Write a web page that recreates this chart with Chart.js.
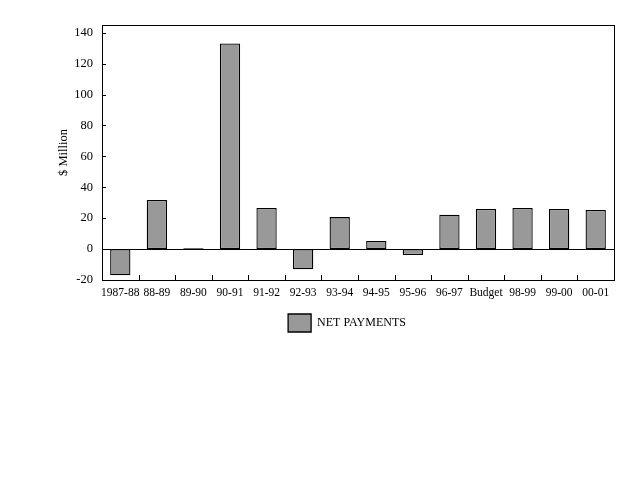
<!DOCTYPE html>
<html>
<head>
<meta charset="utf-8">
<script src="https://cdn.jsdelivr.net/npm/chart.js@4"></script>
<style>
  html, body { margin: 0; padding: 0; background: #fff; }
  #wrap { width: 640px; height: 480px; }
</style>
</head>
<body>
<div id="wrap"><canvas id="netChart" width="640" height="480"></canvas></div>
<script>
// Chart data
const years = ['1987-88', '88-89', '89-90', '90-91', '91-92', '92-93', '93-94',
               '94-95', '95-96', '96-97', 'Budget', '98-99', '99-00', '00-01'];
const netPayments = [-17, 31.8, 0.6, 133, 26.6, -13, 20.7, 5.2, -3.9, 22.2, 25.9, 26.6, 25.9, 25.3];
const yTickValues = [-20, -10, 0, 10, 20, 30, 40, 50, 60, 70, 80, 90, 100, 110, 120, 130, 140];

const serif = 'Liberation Serif, Times New Roman, serif';

// Draws the frame, the zero line and the inward tick marks
const framePlugin = {
  id: 'frame',
  beforeDatasetsDraw(chart) {
    const { ctx, chartArea: a, scales: { y } } = chart;
    const y0 = y.getPixelForValue(0);
    ctx.save();
    ctx.strokeStyle = '#000';
    ctx.lineWidth = 1;
    ctx.beginPath();
    ctx.moveTo(a.left, Math.round(y0) + 0.5);
    ctx.lineTo(a.right, Math.round(y0) + 0.5);
    ctx.stroke();
    ctx.restore();
  },
  afterDraw(chart) {
    const { ctx, chartArea: a, scales: { x, y } } = chart;
    ctx.save();
    ctx.strokeStyle = '#000';
    ctx.lineWidth = 1;
    ctx.strokeRect(Math.round(a.left) + 0.5, Math.round(a.top) + 0.5,
                   Math.round(a.right - a.left), Math.round(a.bottom - a.top));
    ctx.beginPath();
    y.ticks.forEach(t => {
      const py = Math.round(y.getPixelForValue(t.value)) + 0.5;
      ctx.moveTo(a.left, py);
      ctx.lineTo(a.left + 4, py);
    });
    for (let i = 0; i < years.length - 1; i++) {
      const px = Math.round(x.getPixelForValue(i + 0.5)) + 0.5;
      ctx.moveTo(px, a.bottom);
      ctx.lineTo(px, a.bottom - 5);
    }
    ctx.stroke();
    ctx.restore();
  },
  afterLayout(chart) {
    // nudge the legend to sit under the middle of the plot like the original
    chart.legend.left += 40;
    chart.legend.right += 40;
  }
};

const ctx = document.getElementById('netChart').getContext('2d');
const netChart = new Chart(ctx, {
  type: 'bar',
  data: {
    labels: years,
    datasets: [{
      label: 'NET PAYMENTS',
      data: netPayments,
      backgroundColor: '#999999',
      borderColor: '#000000',
      borderWidth: 1.3,
      borderSkipped: false,
      barPercentage: 0.555,
      categoryPercentage: 1
    }]
  },
  options: {
    responsive: false,
    animation: false,
    devicePixelRatio: 1,
    layout: { padding: { left: 0, right: 26, top: 25, bottom: 138 } },
    plugins: {
      tooltip: { enabled: false },
      legend: {
        position: 'bottom',
        labels: {
          boxWidth: 23,
          boxHeight: 18,
          padding: 10,
          color: '#000',
          font: { family: serif, size: 12 }
        }
      }
    },
    scales: {
      x: {
        offset: true,
        grid: { display: false, drawTicks: false },
        border: { display: true, color: '#000' },
        ticks: {
          color: '#000',
          autoSkip: false,
          maxRotation: 0,
          padding: 6,
          font: { family: serif, size: 11.5 }
        },
        afterFit(scale) { scale.height = 24; }
      },
      y: {
        min: -20,
        max: 145,
        grid: { display: false, drawTicks: false },
        border: { display: true, color: '#000' },
        afterBuildTicks(scale) {
          scale.ticks = yTickValues.map(v => ({ value: v }));
        },
        ticks: {
          color: '#000',
          padding: 9,
          font: { family: serif, size: 12.5 },
          callback: v => (v % 20 === 0 ? v : '')
        },
        title: {
          display: true,
          text: '$ Million',
          color: '#000',
          font: { family: serif, size: 12.5 },
          padding: { top: 56, bottom: 0 }
        },
        afterFit(scale) { scale.width = 102; }
      }
    }
  },
  plugins: [framePlugin]
});
</script>
</body>
</html>
